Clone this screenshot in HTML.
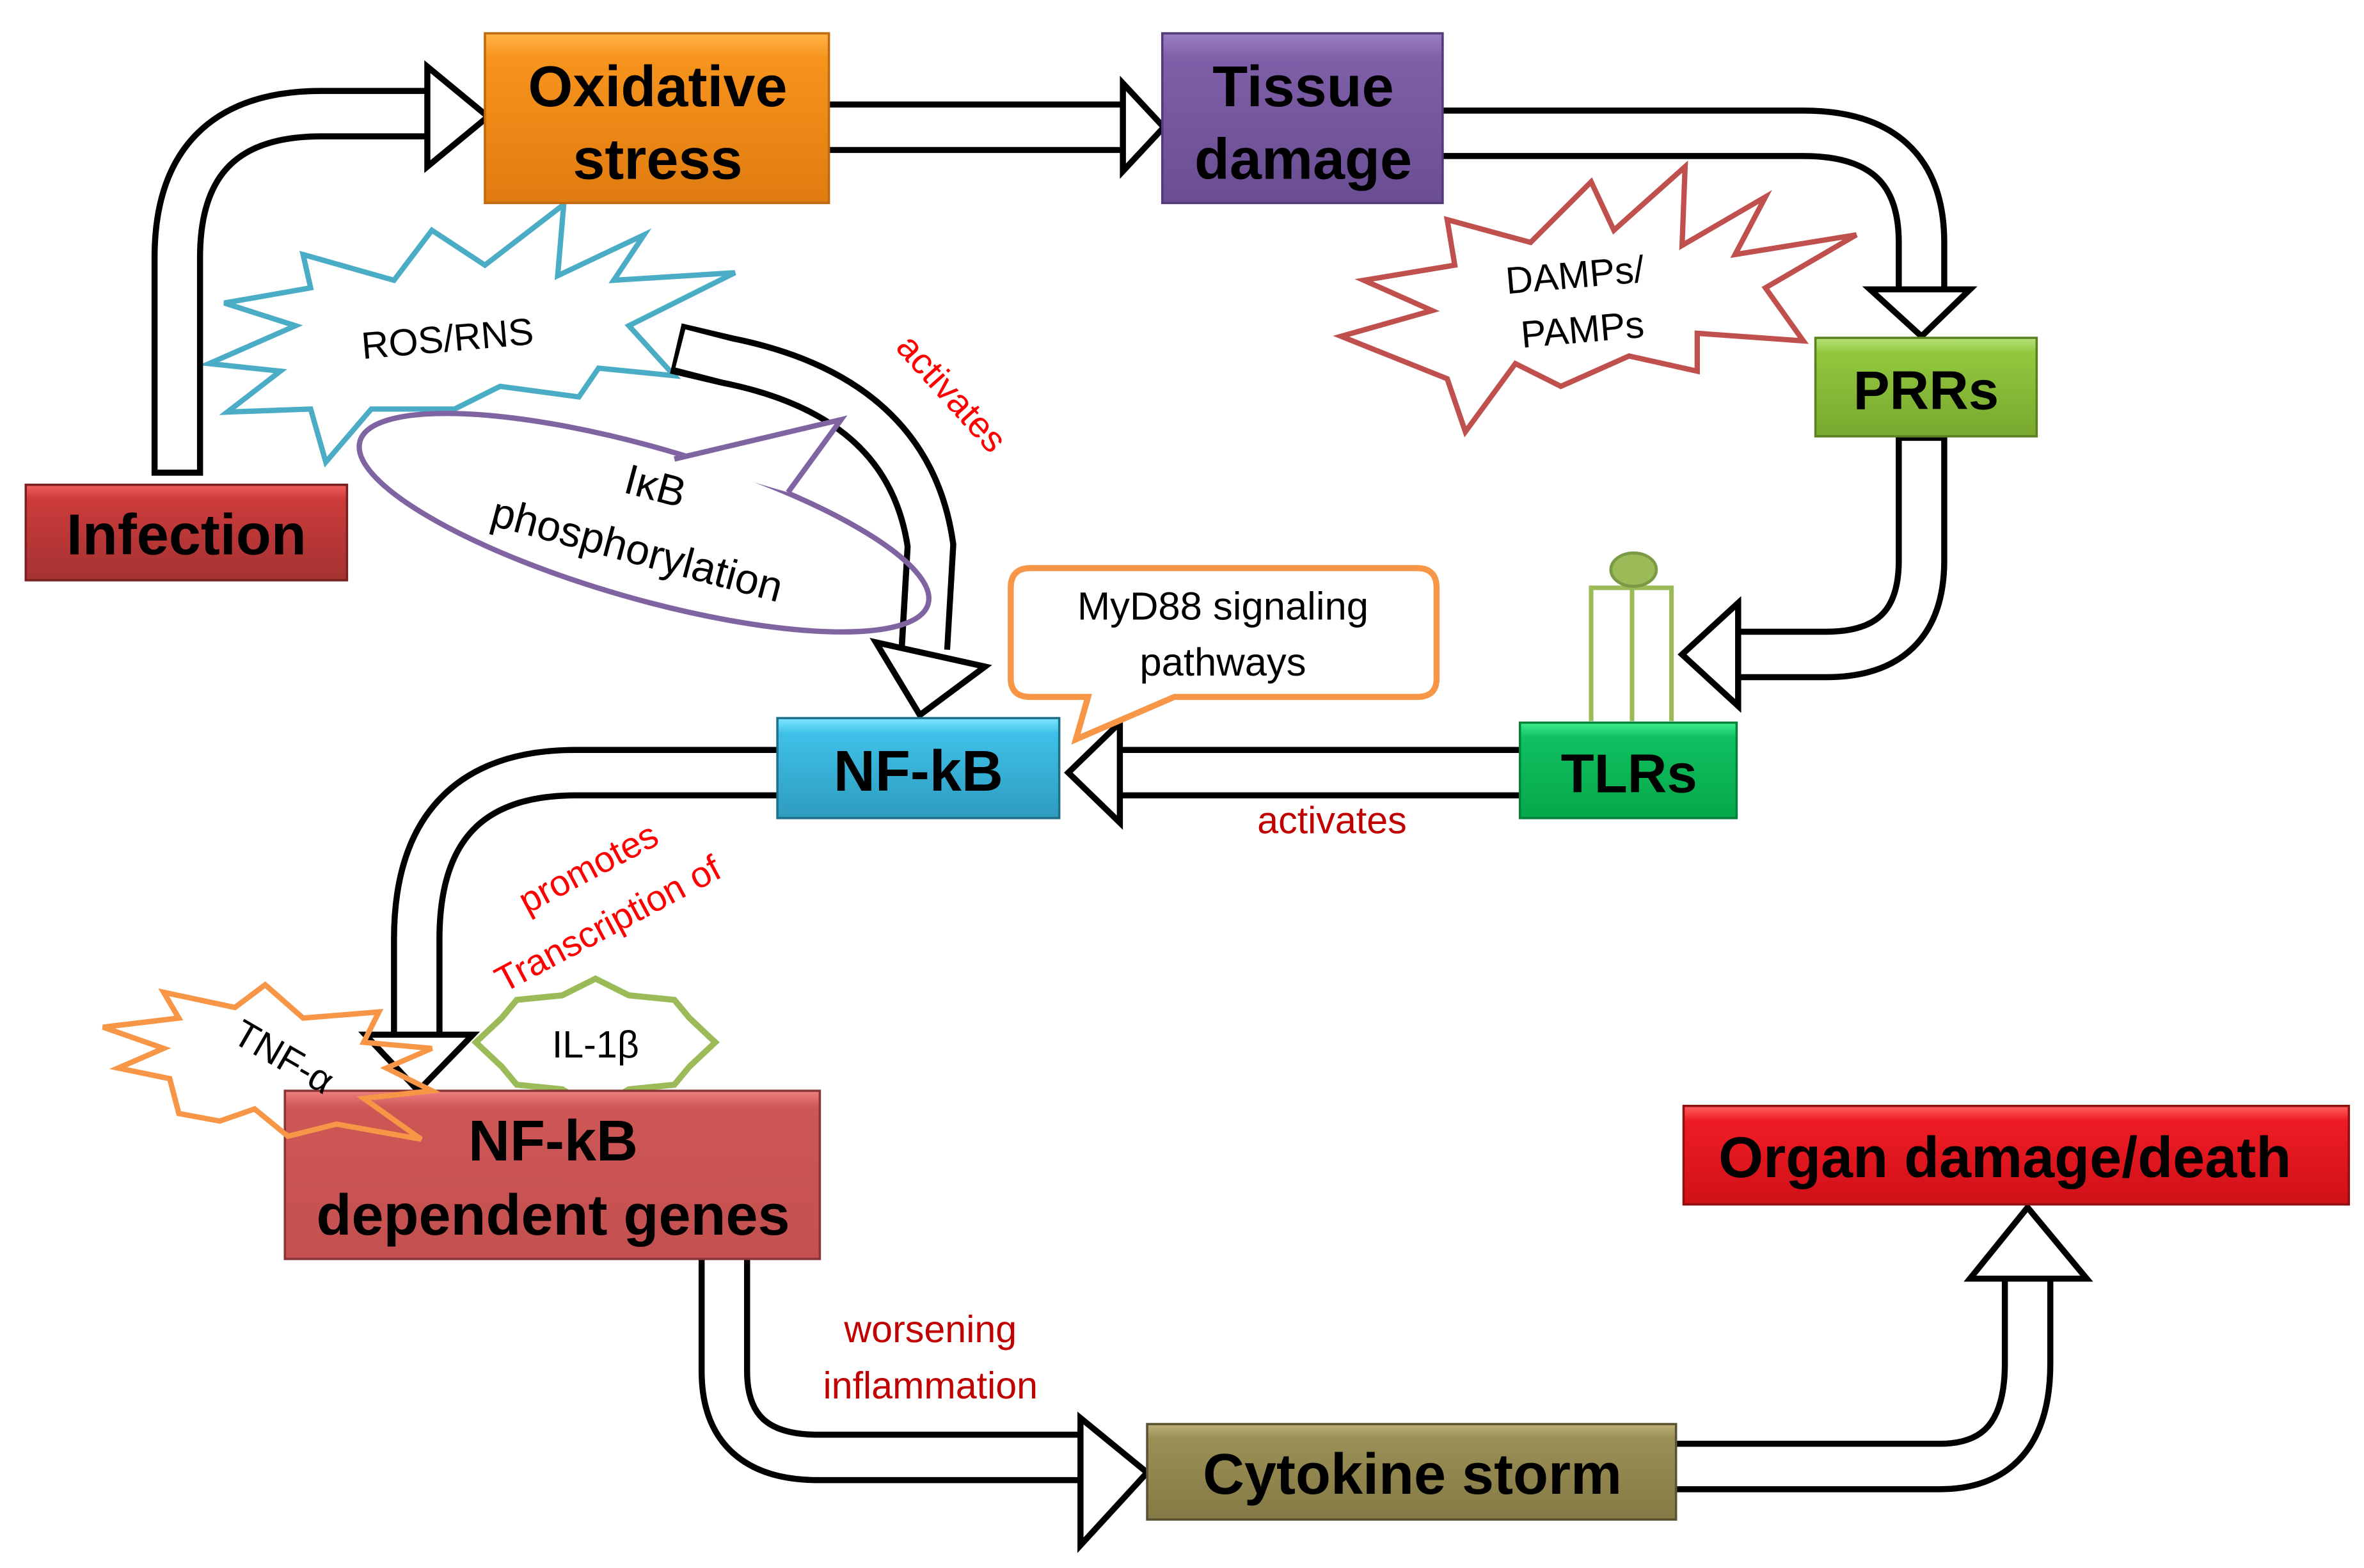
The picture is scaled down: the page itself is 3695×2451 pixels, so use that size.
<!DOCTYPE html>
<html><head><meta charset="utf-8"><style>
html,body{margin:0;padding:0;background:#fff;}
svg{display:block;}
text{font-family:"Liberation Sans",sans-serif;}
</style></head><body>
<svg width="3695" height="2451" viewBox="0 0 1560 1035" preserveAspectRatio="none" xmlns="http://www.w3.org/2000/svg">
<defs>
<linearGradient id="gO" x1="0" y1="0" x2="0" y2="1"><stop offset="0" stop-color="#ffb347"/><stop offset="0.15" stop-color="#f7941d"/><stop offset="1" stop-color="#e07b10"/></linearGradient>
<linearGradient id="gP" x1="0" y1="0" x2="0" y2="1"><stop offset="0" stop-color="#9a7fc4"/><stop offset="0.15" stop-color="#7f5fa8"/><stop offset="1" stop-color="#6a4d92"/></linearGradient>
<linearGradient id="gR" x1="0" y1="0" x2="0" y2="1"><stop offset="0" stop-color="#f06060"/><stop offset="0.15" stop-color="#cc3b3b"/><stop offset="1" stop-color="#a53232"/></linearGradient>
<linearGradient id="gG1" x1="0" y1="0" x2="0" y2="1"><stop offset="0" stop-color="#b5e27a"/><stop offset="0.15" stop-color="#92c83e"/><stop offset="1" stop-color="#78a82e"/></linearGradient>
<linearGradient id="gG2" x1="0" y1="0" x2="0" y2="1"><stop offset="0" stop-color="#40f090"/><stop offset="0.15" stop-color="#10c060"/><stop offset="1" stop-color="#05a84a"/></linearGradient>
<linearGradient id="gB" x1="0" y1="0" x2="0" y2="1"><stop offset="0" stop-color="#7fe8ff"/><stop offset="0.15" stop-color="#3fc0e8"/><stop offset="1" stop-color="#2e9cbf"/></linearGradient>
<linearGradient id="gD" x1="0" y1="0" x2="0" y2="1"><stop offset="0" stop-color="#ee8080"/><stop offset="0.1" stop-color="#cd5755"/><stop offset="1" stop-color="#c45050"/></linearGradient>
<linearGradient id="gRR" x1="0" y1="0" x2="0" y2="1"><stop offset="0" stop-color="#ff6060"/><stop offset="0.15" stop-color="#ee1c24"/><stop offset="1" stop-color="#d01018"/></linearGradient>
<linearGradient id="gC" x1="0" y1="0" x2="0" y2="1"><stop offset="0" stop-color="#bfb27a"/><stop offset="0.15" stop-color="#9a8f55"/><stop offset="1" stop-color="#857a45"/></linearGradient>
</defs>

<polygon points="372,135 368,182 425,155 405,185 485,180 415,215 445,248 395,243 382,262 330,255 300,270 245,270 215,305 205,270 150,272 185,245 138,240 195,215 148,200 205,190 200,168 260,185 285,152 320,175" fill="#fff" stroke="#4bacc6" stroke-width="3.5"/>
<polygon points="1112,110 1110,162 1165,130 1145,168 1225,155 1165,190 1190,225 1120,220 1120,245 1075,235 1030,255 1000,240 967,285 955,250 885,222 945,205 900,185 960,175 955,145 1010,160 1050,120 1065,152" fill="#fff" stroke="#c0504d" stroke-width="3.5"/>
<polygon points="68,678 118,672 108,655 155,665 175,650 200,672 250,668 240,688 285,692 255,705 285,720 240,725 278,752 222,742 190,750 168,732 145,740 118,735 112,712 78,705 108,692" fill="#fff" stroke="#f79646" stroke-width="3.5"/>

<ellipse cx="425" cy="345" rx="195" ry="50" transform="rotate(16 425 345)" fill="#fff" stroke="none"/>
<polygon points="445,303 555,277 520,325" fill="#fff"/>

<g fill="none" stroke-linejoin="miter">
<path d="M117,314 L117,170 Q117,75 212,75 L284,75" stroke="#000" stroke-width="34"/>
<path d="M117,310 L117,170 Q117,75 212,75 L286,75" stroke="#fff" stroke-width="26"/>
<path d="M547,84 L742,84" stroke="#000" stroke-width="34"/><path d="M544,84 L744,84" stroke="#fff" stroke-width="26"/>
<path d="M952,88 L1190,88 Q1268,88 1268,160 L1268,192" stroke="#000" stroke-width="34"/><path d="M949,88 L1190,88 Q1268,88 1268,160 L1268,194" stroke="#fff" stroke-width="26"/>
<path d="M1268,288 L1268,370 Q1268,432 1205,432 L1148,432" stroke="#000" stroke-width="34"/><path d="M1268,291 L1268,370 Q1268,432 1205,432 L1146,432" stroke="#fff" stroke-width="26"/>
<path d="M1003,510 L738,510" stroke="#000" stroke-width="34"/><path d="M1006,510 L736,510" stroke="#fff" stroke-width="26"/>
<path d="M446,230 L480,238 Q600,262 614,360 L610,428" stroke="#000" stroke-width="34"/><path d="M449,230 L480,238 Q600,262 614,360 L610,430" stroke="#fff" stroke-width="26"/>
<path d="M513,510 L380,510 Q275,510 275,620 L275,682" stroke="#000" stroke-width="34"/><path d="M516,510 L380,510 Q275,510 275,620 L275,684" stroke="#fff" stroke-width="26"/>
<path d="M478,831 L478,905 Q478,962 540,962 L714,962" stroke="#000" stroke-width="34"/><path d="M478,828 L478,905 Q478,962 540,962 L716,962" stroke="#fff" stroke-width="26"/>
<path d="M1106,968 L1280,968 Q1338,968 1338,900 L1338,843" stroke="#000" stroke-width="34"/><path d="M1103,968 L1280,968 Q1338,968 1338,900 L1338,841" stroke="#fff" stroke-width="26"/>
</g>
<g fill="#fff" stroke="#000" stroke-width="4" stroke-linejoin="miter">
<polygon points="282,44 322,77 282,110"/>
<polygon points="741,55 768,84 741,113"/>
<polygon points="1234,191 1268,222 1300,191"/>
<polygon points="1147,398 1110,432 1147,466"/>
<polygon points="739,477 705,510 739,543"/>
<polygon points="578,424 607,472 650,440"/>
<polygon points="241,683 276,720 312,683"/>
<polygon points="713,936 757,972 713,1020"/>
<polygon points="1300,844 1338,797 1377,844"/>
</g>

<ellipse cx="425" cy="345" rx="195" ry="50" transform="rotate(16 425 345)" fill="none" stroke="#8064a2" stroke-width="3.5"/>
<polygon points="445,303 555,277 520,325" fill="#fff" stroke="none"/>
<polyline points="445,303 555,277 520,325" fill="none" stroke="#8064a2" stroke-width="3.5"/>

<polygon points="393,646 415,657 445,660 455,672 472,688 455,704 445,716 415,719 393,732 371,719 341,716 331,704 314,688 331,672 341,660 371,657" fill="#fff" stroke="#9bbb59" stroke-width="4"/>

<path d="M680,375 L935,375 Q948,375 948,388 L948,448 Q948,460 935,460 L775,460 L710,488 L718,460 L680,460 Q667,460 667,448 L667,388 Q667,375 680,375 Z" fill="#fff" stroke="#f79646" stroke-width="4"/>

<g stroke="#9bbb59" stroke-width="3" fill="none">
<path d="M1050,476 L1050,388 L1103,388 L1103,476 M1077,388 L1077,476"/>
</g>
<ellipse cx="1078" cy="376" rx="15" ry="11" fill="#9bbb59" stroke="#7a9a45" stroke-width="2"/>

<g stroke-width="1.5">
<rect x="320" y="22" width="227" height="112" fill="url(#gO)" stroke="#c06a10"/>
<rect x="767" y="22" width="185" height="112" fill="url(#gP)" stroke="#553a7a"/>
<rect x="17" y="320" width="212" height="63" fill="url(#gR)" stroke="#7a2020"/>
<rect x="1198" y="223" width="146" height="65" fill="url(#gG1)" stroke="#5a8020"/>
<rect x="1003" y="477" width="143" height="63" fill="url(#gG2)" stroke="#06803a"/>
<rect x="513" y="474" width="186" height="66" fill="url(#gB)" stroke="#1f6f8a"/>
<rect x="188" y="720" width="353" height="111" fill="url(#gD)" stroke="#8a3535"/>
<rect x="1111" y="730" width="439" height="65" fill="url(#gRR)" stroke="#901010"/>
<rect x="757" y="940" width="349" height="63" fill="url(#gC)" stroke="#5a5230"/>
</g>
<polygon points="68,678 118,672 108,655 155,665 175,650 200,672 250,668 240,688 285,692 255,705 285,720 240,725 278,752 222,742 190,750 168,732 145,740 118,735 112,712 78,705 108,692" fill="none" stroke="#f79646" stroke-width="3.5"/>

<g font-weight="bold" fill="#000" text-anchor="middle">
<text x="434" y="70" font-size="38">Oxidative</text>
<text x="434" y="118" font-size="38">stress</text>
<text x="860" y="70" font-size="38">Tissue</text>
<text x="860" y="118" font-size="38">damage</text>
<text x="123" y="366" font-size="38">Infection</text>
<text x="1271" y="270" font-size="36">PRRs</text>
<text x="1075" y="523" font-size="36">TLRs</text>
<text x="606" y="522" font-size="38">NF-kB</text>
<text x="365" y="766" font-size="38">NF-kB</text>
<text x="365" y="815" font-size="38">dependent genes</text>
<text x="1323" y="777" font-size="38">Organ damage/death</text>
<text x="932" y="986" font-size="38">Cytokine storm</text>
</g>
<g fill="#000" text-anchor="middle" font-size="25">
<text x="296" y="232" transform="rotate(-5 296 232)">ROS/RNS</text>
<text x="1040" y="190" transform="rotate(-5 1040 190)">DAMPs/</text>
<text x="1045" y="226" transform="rotate(-5 1045 226)">PAMPs</text>
<text x="430" y="330" font-size="28" transform="rotate(15 430 330)">IκB</text>
<text x="418" y="372" font-size="28" transform="rotate(15 418 372)">phosphorylation</text>
<text x="393" y="698">IL-1β</text>
<text x="183" y="705" transform="rotate(30 183 705)">TNF-α</text>
<text x="807" y="409" font-size="26">MyD88 signaling</text>
<text x="807" y="446" font-size="26">pathways</text>
</g>
<g fill="#ff0000" font-size="24" text-anchor="middle">
<text x="622" y="265" transform="rotate(48 622 265)">activates</text>
<text x="392" y="580" transform="rotate(-28 392 580)">promotes</text>
<text x="405" y="617" transform="rotate(-28 405 617)">Transcription of</text>
</g>
<g fill="#c00000" font-size="25" text-anchor="middle">
<text x="879" y="550">activates</text>
<text x="614" y="886">worsening</text>
<text x="614" y="923">inflammation</text>
</g>
</svg>
</body></html>
